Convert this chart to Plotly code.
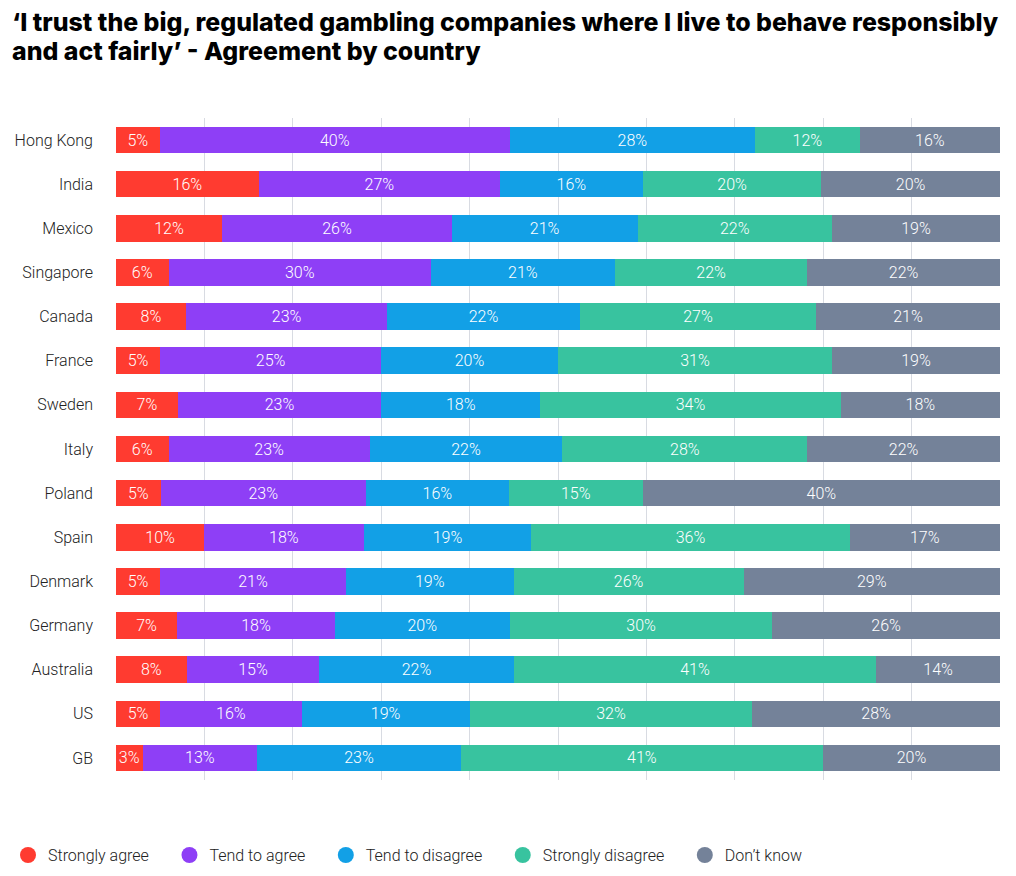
import plotly.graph_objects as go

countries = ["Hong Kong", "India", "Mexico", "Singapore", "Canada", "France", "Sweden",
             "Italy", "Poland", "Spain", "Denmark", "Germany", "Australia", "US", "GB"]

strongly_agree = [5, 16, 12, 6, 8, 5, 7, 6, 5, 10, 5, 7, 8, 5, 3]
tend_to_agree = [40, 27, 26, 30, 23, 25, 23, 23, 23, 18, 21, 18, 15, 16, 13]
tend_to_disagree = [28, 16, 21, 21, 22, 20, 18, 22, 16, 19, 19, 20, 22, 19, 23]
strongly_disagree = [12, 20, 22, 22, 27, 31, 34, 28, 15, 36, 26, 30, 41, 32, 41]
dont_know = [16, 20, 19, 22, 21, 19, 18, 22, 40, 17, 29, 26, 14, 28, 20]

series = [
    ("Strongly agree", strongly_agree, "#ff3b30"),
    ("Tend to agree", tend_to_agree, "#8e3ff6"),
    ("Tend to disagree", tend_to_disagree, "#12a0e6"),
    ("Strongly disagree", strongly_disagree, "#38c39f"),
    ("Don\u2019t know", dont_know, "#748299"),
]

title_lines = [
    "\u2018I trust the big, regulated gambling companies where I live to behave responsibly",
    "and act fairly\u2019 - Agreement by country",
]

LIGHT = dict(family="Roboto", weight=300)
PAD = "\u00a0" * 4  # extra room between legend items

fig = go.Figure()
for name, vals, color in series:
    fig.add_trace(go.Bar(
        y=countries, x=vals, orientation="h", name=name,
        marker=dict(color=color, line=dict(width=0)),
        text=[f"{v}%" for v in vals], textposition="inside",
        insidetextanchor="middle", textangle=0, constraintext="none",
        textfont=dict(color="white", size=16, **LIGHT),
        showlegend=False, hoverinfo="x+y+name",
    ))
    # legend entry with round marker
    fig.add_trace(go.Scatter(
        x=[None], y=[None], mode="markers", name=name + PAD,
        marker=dict(color=color, size=17, symbol="circle"),
    ))

# title as two separate lines for tighter line spacing
for line, ypos in zip(title_lines, [1.145, 1.101]):
    fig.add_annotation(
        text=line, xref="paper", yref="paper", x=-0.1203, y=ypos,
        xanchor="left", yanchor="middle", align="left", showarrow=False,
        font=dict(family="Inter", size=24.9, color="black", weight=800),
    )

fig.update_layout(
    barmode="stack", barnorm="percent", bargap=0.4,
    width=1016, height=876,
    paper_bgcolor="white", plot_bgcolor="white",
    margin=dict(l=108, r=24, t=110, b=104),
    font=dict(color="#222222", size=16, **LIGHT),
    legend=dict(
        orientation="h", traceorder="normal",
        xref="container", yref="container",
        x=-0.018, xanchor="left", y=0.033, yanchor="middle",
        font=dict(size=16, color="#222222", **LIGHT),
    ),
)
fig.update_xaxes(range=[0, 100], dtick=10, showticklabels=False,
                 showgrid=True, gridcolor="#d8dbe2", gridwidth=1,
                 zeroline=False, fixedrange=True)
fig.update_yaxes(autorange="reversed", showgrid=False, ticks="",
                 ticklabelstandoff=22, fixedrange=True, automargin=False,
                 tickfont=dict(size=16, color="#222222", **LIGHT))

fig.write_html("out.html")
